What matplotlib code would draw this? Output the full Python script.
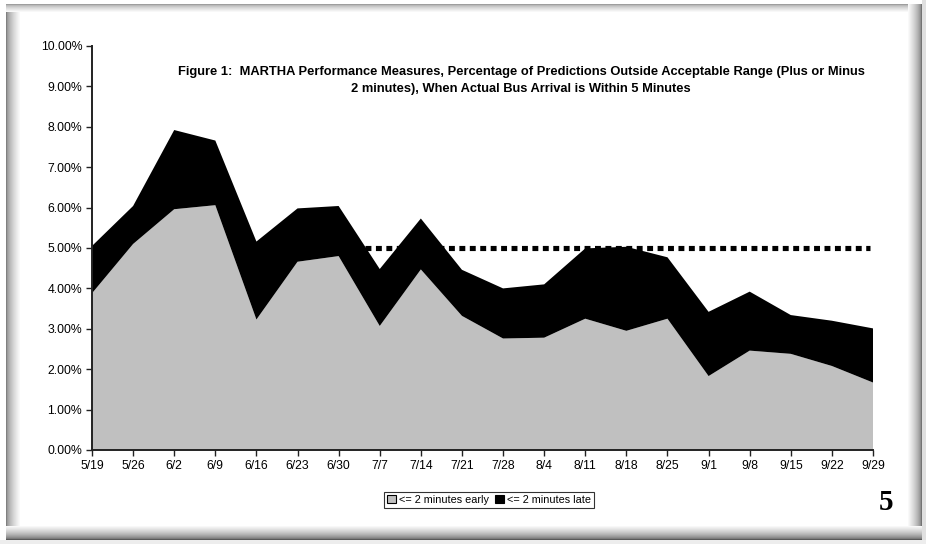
import numpy as np
import matplotlib
matplotlib.use('Agg')
import matplotlib.pyplot as plt
from matplotlib.patches import Rectangle
from matplotlib.ticker import PercentFormatter

# weekly dates
weeks = ['5/19', '5/26', '6/2', '6/9', '6/16', '6/23', '6/30', '7/7', '7/14', '7/21',
         '7/28', '8/4', '8/11', '8/18', '8/25', '9/1', '9/8', '9/15', '9/22', '9/29']

# percent of predictions outside range
early = [3.88, 5.10, 5.96, 6.06, 3.23, 4.66, 4.80, 3.07, 4.47, 3.32,
         2.76, 2.78, 3.25, 2.95, 3.25, 1.83, 2.46, 2.38, 2.08, 1.67]
total = [5.05, 6.04, 7.92, 7.66, 5.16, 5.98, 6.04, 4.48, 5.73, 4.46,
         4.00, 4.10, 4.99, 5.03, 4.77, 3.42, 3.92, 3.34, 3.20, 3.01]
late = [t - e for t, e in zip(total, early)]

target = 5.0
target_span = [6.65, 18.92]

W, H = 926, 544
plt.rcParams['font.family'] = ['Liberation Sans', 'DejaVu Sans']
fig = plt.figure(figsize=(W / 100, H / 100), dpi=100)
fig.patch.set_facecolor('white')

# beveled page frame
def px_rect(x0, y0, x1, y1, color):
    fig.add_artist(Rectangle((x0 / W, 1 - y1 / H), (x1 - x0) / W, (y1 - y0) / H,
                             transform=fig.transFigure, facecolor=color,
                             edgecolor='none', zorder=0))

def shade(g0, i, n, p=0.6):
    g = g0 + (1.0 - g0) * (i / n) ** p
    return (g, g, g)

px_rect(922, 0, 926, 544, (0.88, 0.88, 0.88))
px_rect(0, 540, 926, 544, (0.93, 0.93, 0.93))
for i in range(14):
    px_rect(6 + i, 4, 7 + i, 540, shade(0.5, i, 14))
for i in range(8):
    px_rect(6, 4 + i, 922, 5 + i, shade(0.62, i, 8))
for i in range(14):
    px_rect(921 - i, 4, 922 - i, 540, shade(0.45, i, 14))
for i in range(14):
    px_rect(6, 539 - i, 922, 540 - i, shade(0.35, i, 14))

ax = fig.add_axes([92 / W, 1 - 450 / H, (873 - 92) / W, (450 - 46) / H])
ax.set_facecolor('none')
x = np.arange(len(weeks))
ax.stackplot(x, early, late, colors=['#c0c0c0', '#000000'],
             labels=['<= 2 minutes early', '<= 2 minutes late'], zorder=2)
ax.plot(target_span, [target, target], color='black', lw=3.7,
        linestyle=(0, (1.15, 0.88)), dash_capstyle='butt', zorder=3)

ax.set_xlim(0, len(weeks) - 1)
ax.set_ylim(0, 10)
ax.set_xticks(x)
ax.set_xticklabels(weeks)
ax.set_yticks(np.arange(0, 11, 1))
ax.yaxis.set_major_formatter(PercentFormatter(decimals=2))
ax.tick_params(labelsize=8.8, length=4, width=1, color='#222222', pad=3)
for s in ['top', 'right']:
    ax.spines[s].set_visible(False)
for s in ['left', 'bottom']:
    ax.spines[s].set_linewidth(1.4)
    ax.spines[s].set_color('#222222')
    ax.spines[s].set_zorder(4)

fig.text(521 / W, 1 - 72 / H,
         'Figure 1:  MARTHA Performance Measures, Percentage of Predictions Outside Acceptable Range (Plus or Minus',
         ha='center', va='center', fontsize=9.3, fontweight='bold')
fig.text(521 / W, 1 - 89 / H,
         '2 minutes), When Actual Bus Arrival is Within 5 Minutes',
         ha='center', va='center', fontsize=9.3, fontweight='bold')

leg = fig.legend(loc='center', bbox_to_anchor=(489 / W, 1 - 500 / H), ncol=2,
                 fontsize=7.8, frameon=True, fancybox=False, handlelength=0.8,
                 handleheight=0.8, handletextpad=0.3, columnspacing=0.6,
                 borderpad=0.3, borderaxespad=0)
leg.get_frame().set_edgecolor('black')
leg.get_frame().set_linewidth(0.8)
for h in leg.legend_handles:
    h.set_edgecolor('black')
    h.set_linewidth(0.8)

fig.text(886 / W, 1 - 503 / H, '5', ha='center', va='center', fontsize=21,
         fontweight='bold', family='Liberation Serif')

fig.savefig('out.png', dpi=100)
